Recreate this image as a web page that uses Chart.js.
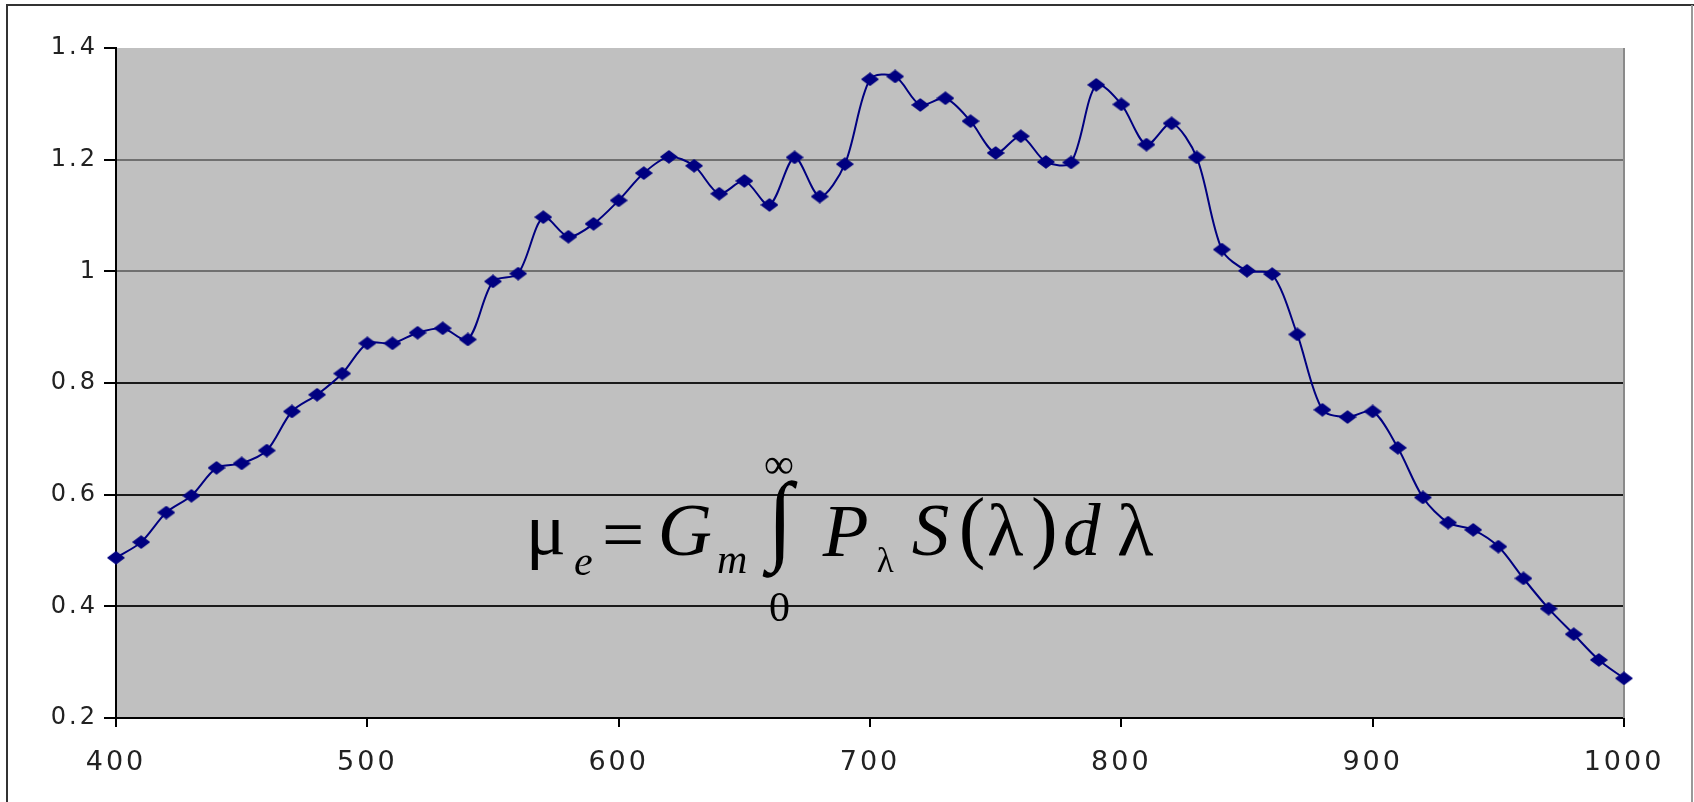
<!DOCTYPE html>
<html><head><meta charset="utf-8">
<script src="https://cdn.jsdelivr.net/npm/chart.js@4.4.1/dist/chart.umd.min.js"></script>
<style>html,body{margin:0;padding:0;background:#fff;overflow:hidden;} canvas{display:block;}</style>
</head><body>
<canvas id="c" width="1694" height="802"></canvas>
<script>
const wavelengths = [400,410,420,430,440,450,460,470,480,490,500,510,520,530,540,550,560,570,580,590,600,610,620,630,640,650,660,670,680,690,700,710,720,730,740,750,760,770,780,790,800,810,820,830,840,850,860,870,880,890,900,910,920,930,940,950,960,970,980,990,1000];
const values = [0.487,0.515,0.568,0.598,0.648,0.656,0.679,0.749,0.779,0.817,0.871,0.871,0.890,0.898,0.878,0.982,0.996,1.097,1.062,1.085,1.127,1.176,1.205,1.189,1.139,1.162,1.119,1.204,1.134,1.192,1.344,1.349,1.298,1.310,1.269,1.212,1.242,1.196,1.195,1.334,1.299,1.227,1.265,1.204,1.039,1.001,0.995,0.887,0.752,0.739,0.749,0.684,0.595,0.550,0.537,0.507,0.450,0.396,0.350,0.304,0.271];
const xTickValues = [400,500,600,700,800,900,1000];
const yTickValues = [0.2,0.4,0.6,0.8,1.0,1.2,1.4];
const yTickLabels = ['0.2','0.4','0.6','0.8','1','1.2','1.4'];

const points = wavelengths.map((w, i) => ({x: w, y: values[i]}));

// stretched diamond marker (Excel style)
const marker = document.createElement('canvas');
marker.width = 18; marker.height = 14;
const mc = marker.getContext('2d');
mc.fillStyle = '#000080';
mc.strokeStyle = '#000080';
mc.lineWidth = 1.5;
mc.lineJoin = 'round';
mc.beginPath(); mc.moveTo(9,1); mc.lineTo(17,7); mc.lineTo(9,13); mc.lineTo(1,7); mc.closePath();
mc.fill(); mc.stroke();

function patchLabels(scale, spacing) {
  if (!scale || scale._lsPatched) return;
  const orig = scale.drawLabels;
  scale.drawLabels = function(area) {
    const c = this.ctx; c.save(); c.letterSpacing = spacing; orig.call(this, area); c.restore();
  };
  scale._lsPatched = true;
}

function putInk(ctx, txt, font, inkLeft, inkTop) {
  ctx.font = font;
  const m = ctx.measureText(txt);
  ctx.fillText(txt, inkLeft + m.actualBoundingBoxLeft, inkTop + m.actualBoundingBoxAscent);
}

function putFit(ctx, txt, font, left, top, w, h) {
  ctx.font = font;
  const m = ctx.measureText(txt);
  const iw = m.actualBoundingBoxLeft + m.actualBoundingBoxRight;
  const ih = m.actualBoundingBoxAscent + m.actualBoundingBoxDescent;
  ctx.save();
  ctx.translate(left, top);
  ctx.scale(w / iw, h / ih);
  ctx.fillText(txt, m.actualBoundingBoxLeft, m.actualBoundingBoxAscent);
  ctx.restore();
}

const SERIF = '"Liberation Serif", "DejaVu Serif", serif';

const decor = {
  id: 'decor',
  beforeDraw(chart) {
    const {ctx, chartArea: a} = chart;
    ctx.save();
    ctx.fillStyle = '#c0c0c0';
    ctx.fillRect(a.left, a.top, a.right - a.left, a.bottom - a.top);
    ctx.restore();
    patchLabels(chart.scales.x, '3px');
    patchLabels(chart.scales.y, '3px');
  },
  beforeDatasetsDraw(chart) {
    const {ctx, chartArea: a} = chart;
    ctx.save();
    ctx.strokeStyle = '#8a8a8a'; ctx.lineWidth = 2;
    ctx.beginPath(); ctx.moveTo(a.right, a.top); ctx.lineTo(a.right, a.bottom); ctx.stroke();
    ctx.restore();
  },
  afterDatasetsDraw(chart) {
    const ctx = chart.ctx;
    ctx.save();
    ctx.fillStyle = '#000';
    ctx.textAlign = 'left';
    ctx.textBaseline = 'alphabetic';
    putInk(ctx, 'μ', '75px ' + SERIF, 531.7, 520);
    putInk(ctx, 'e', 'italic 42px ' + SERIF, 575, 555);
    putInk(ctx, '=', '75px ' + SERIF, 605, 525);
    putInk(ctx, 'G', 'italic 75px ' + SERIF, 661.7, 505);
    putInk(ctx, 'm', 'italic 42px ' + SERIF, 718, 553);
    putFit(ctx, '∫', '100px ' + SERIF, 762, 480, 36, 98);
    putInk(ctx, '∞', '42px ' + SERIF, 765, 456.7);
    putInk(ctx, '0', '42px ' + SERIF, 770, 593);
    putInk(ctx, 'P', 'italic 75px ' + SERIF, 821.7, 506.7);
    putInk(ctx, 'λ', '35px ' + SERIF, 876.7, 546.7);
    putInk(ctx, 'S', 'italic 75px ' + SERIF, 911.7, 505);
    putInk(ctx, '(', '80px ' + SERIF, 961.7, 496.7);
    putInk(ctx, 'λ', '75px ' + SERIF, 988, 503);
    putInk(ctx, ')', '80px ' + SERIF, 1033, 496.7);
    putInk(ctx, 'd', 'italic 75px ' + SERIF, 1065, 503);
    putInk(ctx, 'λ', '75px ' + SERIF, 1118, 503);
    ctx.restore();
  },
  afterDraw(chart) {
    const ctx = chart.ctx;
    ctx.save();
    ctx.lineWidth = 2;
    ctx.strokeStyle = '#333';
    ctx.beginPath(); ctx.moveTo(6, 5); ctx.lineTo(1694, 5); ctx.stroke();
    ctx.beginPath(); ctx.moveTo(7, 5); ctx.lineTo(7, 802); ctx.stroke();
    ctx.strokeStyle = '#999';
    ctx.beginPath(); ctx.moveTo(1692, 5); ctx.lineTo(1692, 802); ctx.stroke();
    ctx.restore();
  }
};

function gridColor(c) {
  const v = c.tick ? Math.round(c.tick.value * 10) / 10 : 0;
  if (v === 1.4) return 'rgba(0,0,0,0)';
  if (v === 1.2 || v === 1.0) return '#707070';
  return '#1a1a1a';
}

new Chart(document.getElementById('c'), {
  type: 'line',
  data: {
    datasets: [{
      data: points,
      borderColor: '#000080',
      borderWidth: 2,
      tension: 0.3,
      fill: false,
      pointStyle: marker,
      pointRadius: 7,
      pointHoverRadius: 7,
      clip: false
    }]
  },
  plugins: [decor],
  options: {
    responsive: false,
    devicePixelRatio: 1,
    animation: false,
    events: [],
    layout: {padding: {left: 0, top: 48, right: 70, bottom: 0}},
    plugins: {legend: {display: false}, tooltip: {enabled: false}, title: {display: false}},
    scales: {
      x: {
        type: 'linear', min: 400, max: 1000,
        afterBuildTicks: s => { s.ticks = xTickValues.map(v => ({value: v})); },
        afterFit: s => { s.height = 84; },
        ticks: {font: {family: '"DejaVu Sans", sans-serif', size: 27}, color: '#222', padding: 20, maxRotation: 0, autoSkip: false, callback: v => String(v)},
        grid: {drawOnChartArea: false, drawTicks: true, tickLength: 9, tickColor: '#000', tickWidth: 2, lineWidth: 2},
        border: {display: true, color: '#000', width: 2}
      },
      y: {
        type: 'linear', min: 0.2, max: 1.4,
        afterBuildTicks: s => { s.ticks = yTickValues.map(v => ({value: v})); },
        afterFit: s => { s.width = 116; },
        ticks: {font: {family: '"DejaVu Sans", sans-serif', size: 24}, color: '#222', padding: 6, callback: (v, i) => yTickLabels[i]},
        grid: {color: gridColor, lineWidth: 2, tickLength: 12, tickColor: '#000', tickWidth: 2},
        border: {display: true, color: '#000', width: 2}
      }
    }
  }
});
</script>
</body></html>
